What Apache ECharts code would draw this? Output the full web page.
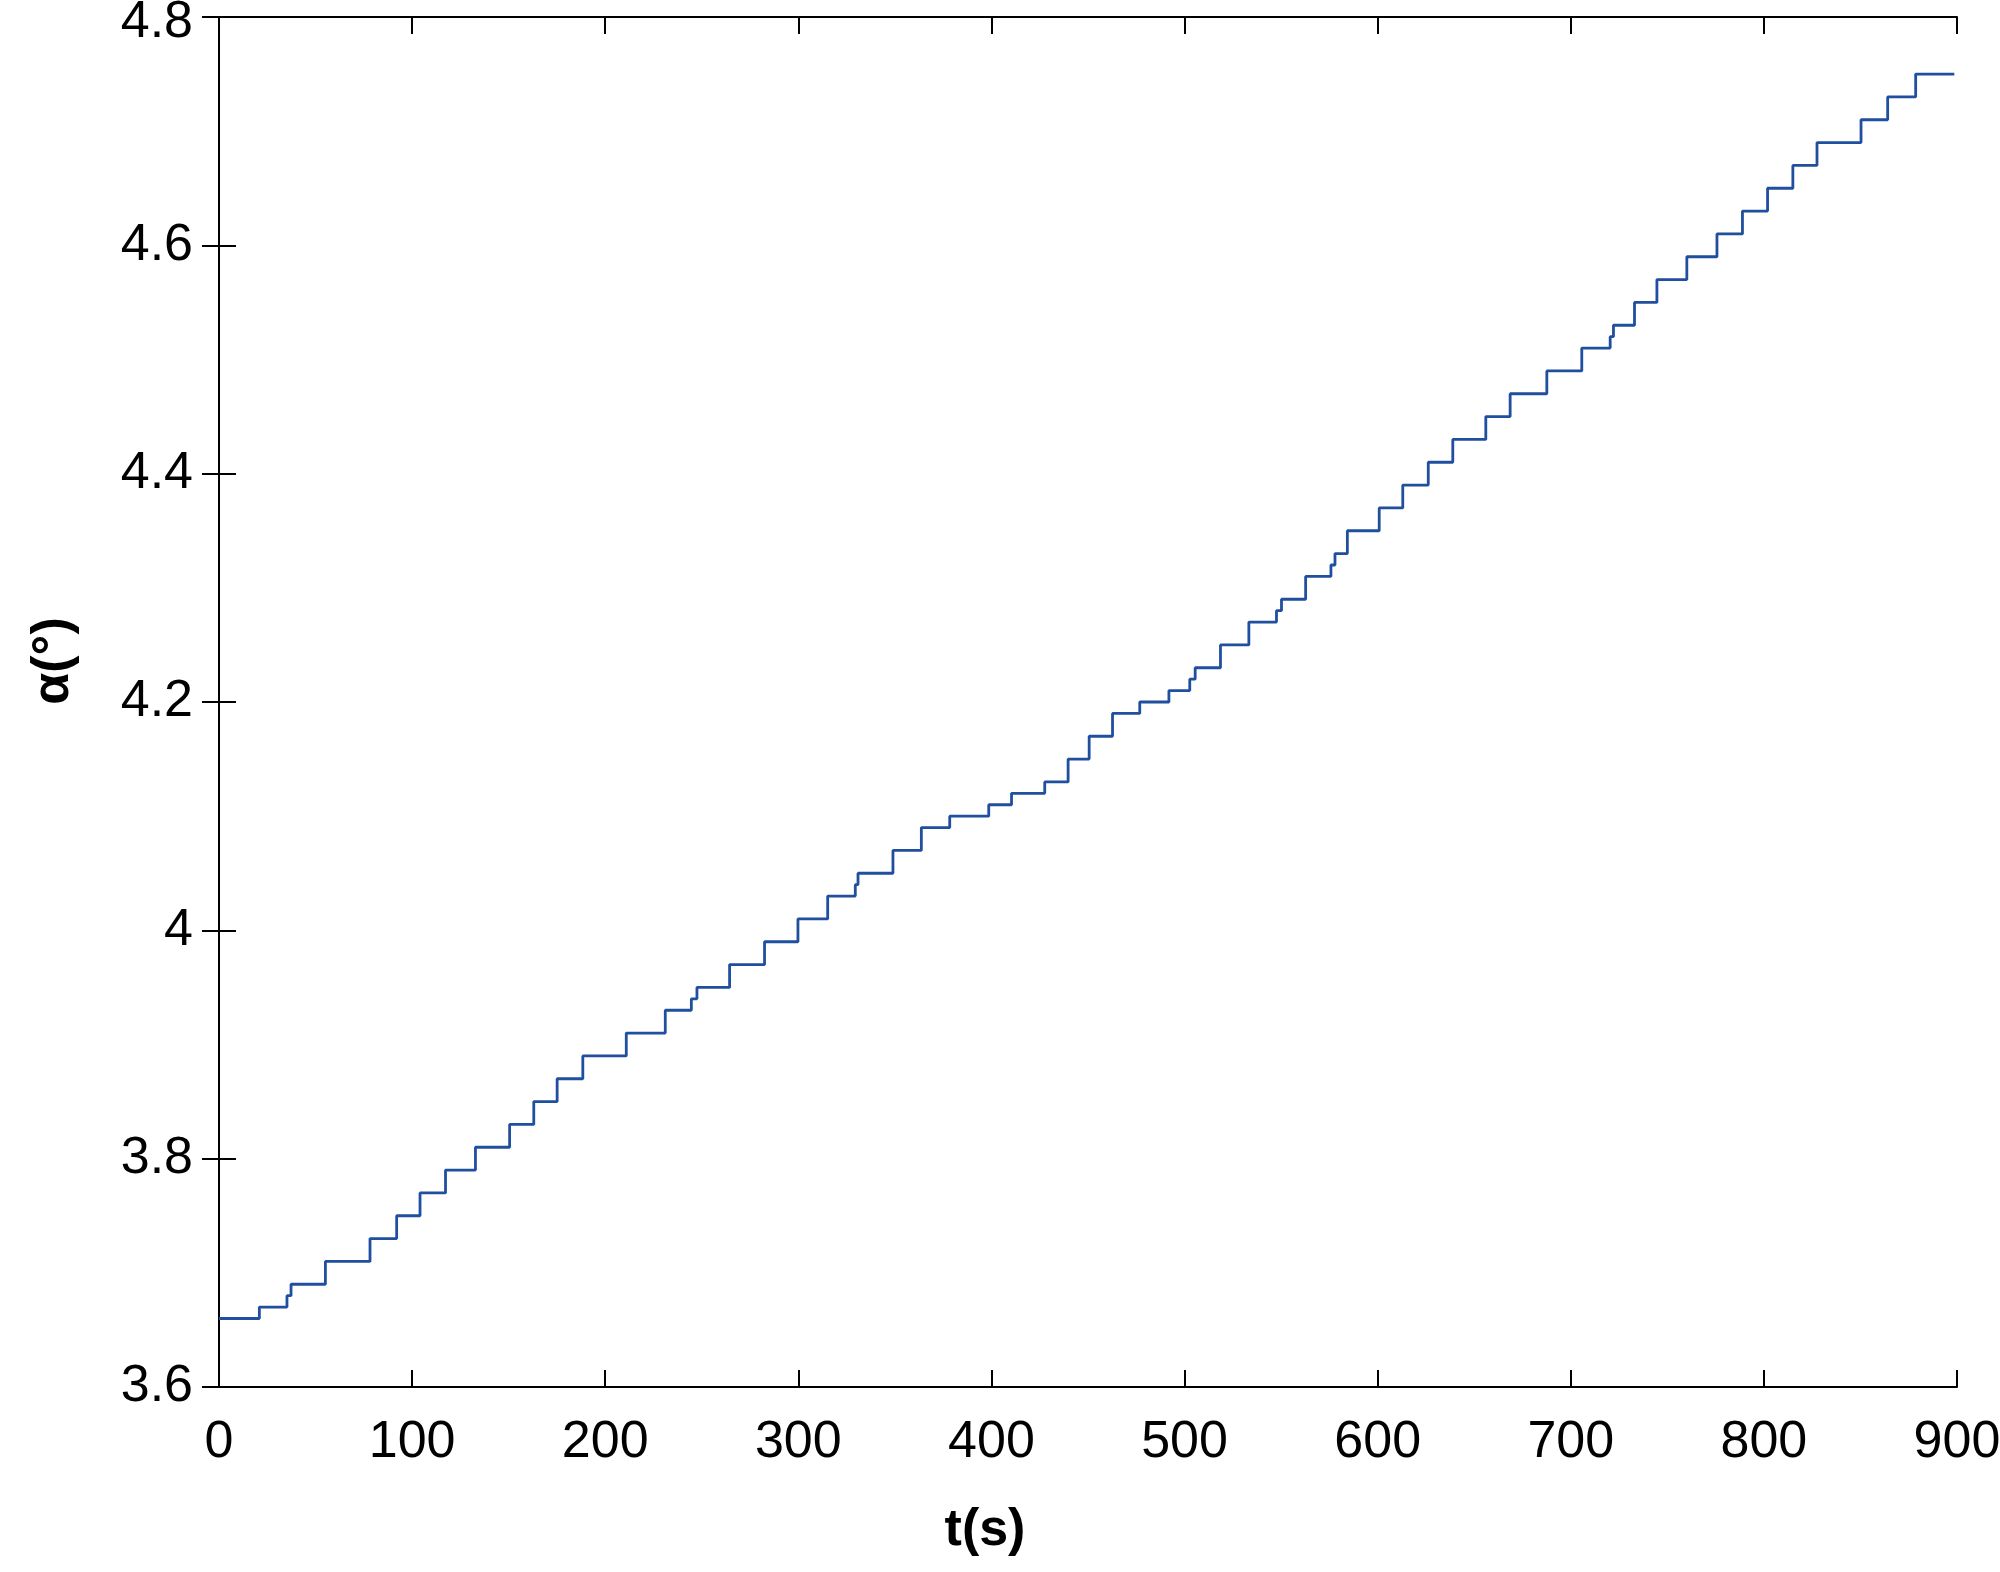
<!DOCTYPE html>
<html>
<head>
<meta charset="utf-8">
<script src="https://cdn.jsdelivr.net/npm/echarts@6/dist/echarts.min.js"></script>
<style>
  html, body { margin: 0; padding: 0; background: #fff; }
  #chart { width: 2000px; height: 1572px; }
</style>
</head>
<body>
<div id="chart"></div>
<script>
// 每个台阶的起始时间 (s) 与对应的角度 (°)
const stepTimes = [
  0, 20.9, 35.2, 37.3, 55.1, 78.2, 92.0, 104.1, 117.3, 132.8,
  150.5, 163.0, 175.1, 188.4, 210.9, 231.1, 244.6, 247.5, 264.4, 282.5,
  299.8, 315.2, 329.5, 330.9, 349.0, 363.7, 378.4, 398.6, 410.4, 427.6,
  439.7, 450.6, 462.7, 476.8, 491.9, 502.7, 505.5, 518.6, 533.3, 547.6,
  550.2, 562.7, 575.8, 577.9, 584.3, 600.8, 613.0, 626.2, 638.9, 656.0,
  668.6, 687.6, 705.7, 720.4, 722.1, 733.0, 744.6, 760.1, 775.7, 788.9,
  801.9, 815.0, 827.5, 850.3, 864.1, 878.6, 898.6
];
const stepLevels = [
  3.66, 3.67, 3.68, 3.69, 3.71, 3.73, 3.75, 3.77, 3.79, 3.81,
  3.83, 3.85, 3.87, 3.89, 3.91, 3.93, 3.94, 3.95, 3.97, 3.99,
  4.01, 4.03, 4.04, 4.05, 4.07, 4.09, 4.10, 4.11, 4.12, 4.13,
  4.15, 4.17, 4.19, 4.20, 4.21, 4.22, 4.23, 4.25, 4.27, 4.28,
  4.29, 4.31, 4.32, 4.33, 4.35, 4.37, 4.39, 4.41, 4.43, 4.45,
  4.47, 4.49, 4.51, 4.52, 4.53, 4.55, 4.57, 4.59, 4.61, 4.63,
  4.65, 4.67, 4.69, 4.71, 4.73, 4.75, 4.75
];

const xName = 't(s)';
const yName = 'α(°)';

const chart = echarts.init(document.getElementById('chart'));

const font = '"Liberation Sans", Arial, sans-serif';
const axisLine = { show: true, lineStyle: { color: '#000', width: 2 } };
const axisTick = { show: true, inside: true, length: 17, lineStyle: { color: '#000', width: 2 } };

const option = {
  backgroundColor: '#fff',
  animation: false,
  grid: { left: 219, right: 43, top: 17, bottom: 185, containLabel: false, outerBoundsMode: 'none' },
  xAxis: [
    {
      type: 'value', min: 0, max: 900, interval: 100, position: 'bottom',
      axisLine, axisTick, splitLine: { show: false },
      axisLabel: { color: '#000', fontSize: 52, fontFamily: font, margin: 30 }
    },
    {
      type: 'value', min: 0, max: 900, interval: 100, position: 'top',
      axisLine, axisTick, splitLine: { show: false }, axisLabel: { show: false }
    }
  ],
  yAxis: [
    {
      type: 'value', min: 3.6, max: 4.8, interval: 0.2, position: 'left',
      axisLine, axisTick, splitLine: { show: false },
      axisLabel: {
        color: '#000', fontSize: 52, fontFamily: font, margin: 26,
        // 顶部 4.8 稍微往下挪，避免被裁掉
        formatter: (v) => (Math.abs(v - 4.8) < 1e-6 ? '{top|4.8}' : String(+v.toFixed(1))),
        rich: { top: { fontSize: 52, fontFamily: font, color: '#000', padding: [12, 0, 0, 0] } }
      }
    },
    {
      type: 'value', min: 3.6, max: 4.8, interval: 0.2, position: 'right',
      axisLine, axisTick, splitLine: { show: false }, axisLabel: { show: false }
    }
  ],
  graphic: [
    {
      type: 'text', x: 985, y: 1531,
      style: { text: xName, font: 'bold 52px ' + font, fill: '#000', align: 'center', verticalAlign: 'middle' }
    },
    {
      type: 'text', x: 54, y: 661, rotation: Math.PI / 2,
      style: { text: yName, font: 'bold 52px ' + font, fill: '#000', align: 'center', verticalAlign: 'middle' }
    }
  ],
  series: [
    {
      type: 'line',
      step: 'end',
      showSymbol: false,
      data: stepTimes.map((t, i) => [t, stepLevels[i]]),
      lineStyle: { color: '#1f4f9e', width: 2.8 }
    }
  ]
};

chart.setOption(option);
</script>
</body>
</html>
